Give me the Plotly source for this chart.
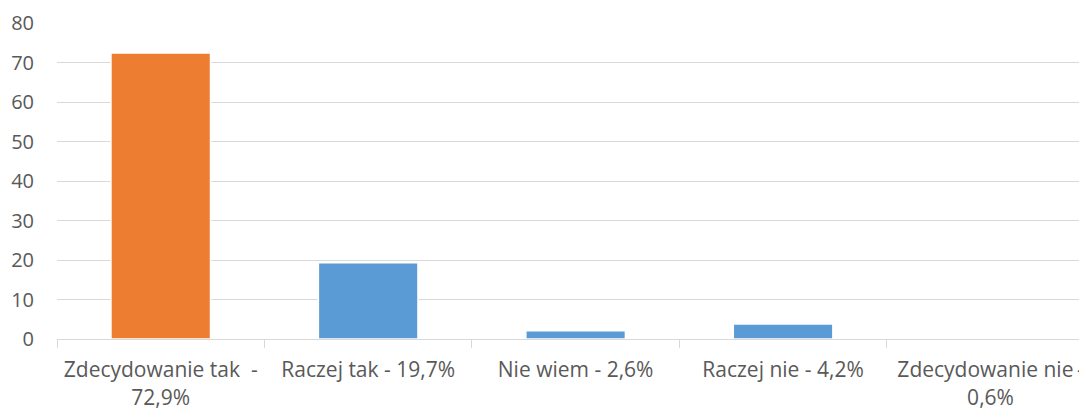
import plotly.graph_objects as go

# ============================
# dados
# ============================
categorias = [
    "Zdecydowanie tak \u00a0-<br>72,9%",
    "Raczej tak - 19,7%",
    "Nie wiem - 2,6%",
    "Raczej nie - 4,2%",
    "Zdecydowanie nie\u2009-<br>0,6%",
]
valores = [72.4, 19.3, 2.1, 3.8, 0.0]
cores = ["#ED7D31", "#5B9BD5", "#5B9BD5", "#5B9BD5", "#5B9BD5"]

fig = go.Figure(go.Bar(
    x=categorias,
    y=valores,
    marker=dict(color=cores, line=dict(color="white", width=1.5)),
    width=0.48,
))

# a página tem margem de 8px no body, por isso a figura é 8px menor
fig.update_layout(
    width=1079,
    height=400,
    margin=dict(l=49, r=0, t=15, b=69),
    plot_bgcolor="white",
    paper_bgcolor="white",
    font=dict(family="Open Sans", size=20, color="#595959"),
    showlegend=False,
)

fig.update_xaxes(
    range=[-0.5, 4.465],
    automargin=False,
    showline=True,
    linecolor="#D9D9D9",
    linewidth=1,
    ticks="outside",
    tickson="boundaries",
    ticklen=8,
    tickcolor="#D9D9D9",
    showgrid=False,
    ticklabelstandoff=12,
    tickfont=dict(size=21),
)

fig.update_yaxes(
    range=[0, 80],
    dtick=10,
    automargin=False,
    showgrid=True,
    gridcolor="#D9D9D9",
    gridwidth=1,
    zeroline=False,
    ticklabelstandoff=22,
    tickfont=dict(size=20),
)

fig.write_html("out.html")
